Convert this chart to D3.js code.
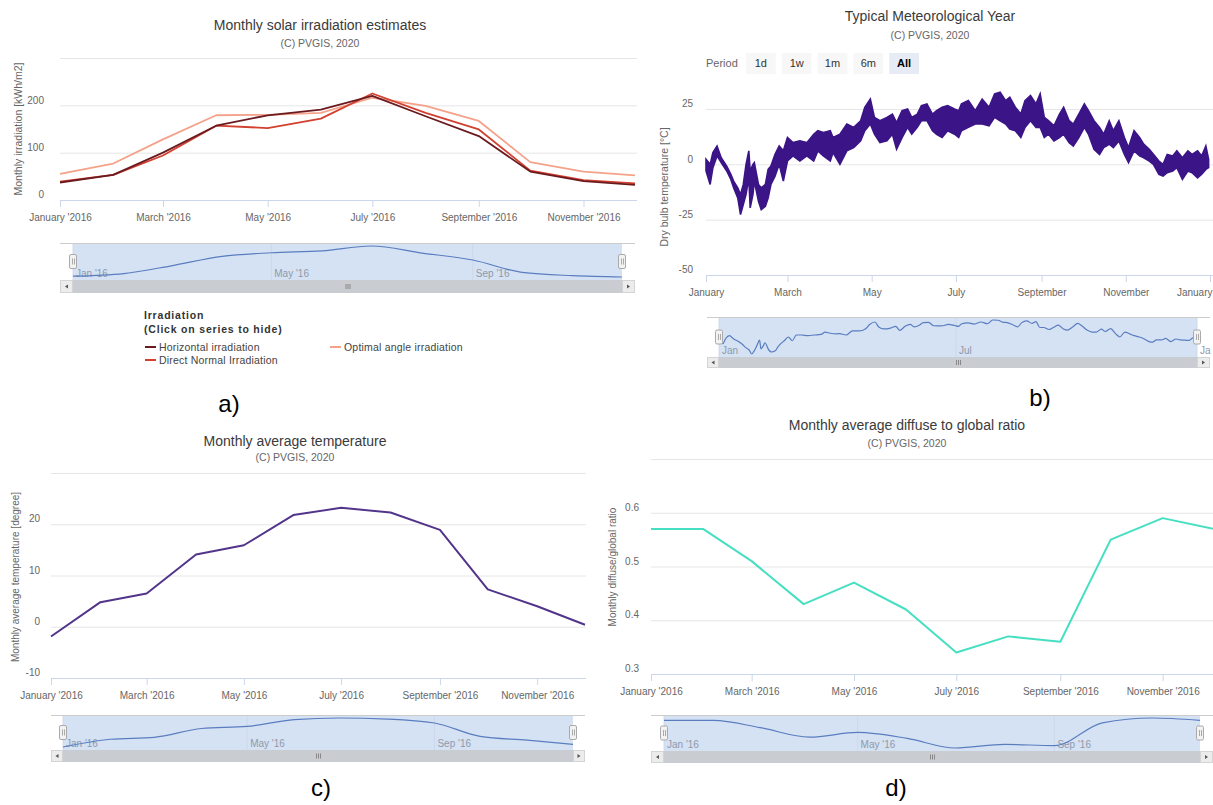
<!DOCTYPE html>
<html>
<head>
<meta charset="utf-8">
<script src="https://cdn.jsdelivr.net/npm/d3@7"></script>
<style>
  body { margin: 0; background: #fff; }
  svg { display: block; }
  text { font-family: "Liberation Sans", Arial, Helvetica, sans-serif; }
</style>
</head>
<body>
<svg id="fig" width="1213" height="805"></svg>
<script>
// ---------- data ----------
const monthStarts = ["2016-01-01","2016-02-01","2016-03-01","2016-04-01","2016-05-01","2016-06-01",
                     "2016-07-01","2016-08-01","2016-09-01","2016-10-01","2016-11-01","2016-12-01"];
const monthTicks = ["2016-01-01","2016-03-01","2016-05-01","2016-07-01","2016-09-01","2016-11-01"];
const navTicks = ["2016-01-01","2016-05-01","2016-09-01"];
const navTickLabels = ["Jan '16","May '16","Sep '16"];

// a) monthly irradiation, kWh/m2
const horizontalIrr   = [37, 53, 100, 157, 179, 191, 220, 177, 135, 60, 40, 32];
const directNormalIrr = [39, 53, 94, 157, 152, 172, 225, 184, 149, 62, 42, 35];
const optimalAngleIrr = [55, 77, 128, 179, 180, 184, 216, 199, 167, 80, 60, 52];
const irrGrid = [0, 100, 200, 300];
const irrLabels = [0, 100, 200];

// b) typical meteorological year, dry bulb temperature envelope (day of year, max, min)
const tmyDay  = [0,3,5,8,11,15,18,20,23,25,27,29,31,32,34,35,38,40,43,45,47,50,53,56,59,63,68,73,78,81,85,90,92,97,
                 102,107,112,115,119,122,126,131,135,138,142,146,149,153,156,160,164,167,171,175,180,183,185,190,195,
                 200,205,209,213,217,220,224,228,231,235,239,242,245,248,252,256,259,263,266,270,274,277,281,285,288,
                 292,295,299,303,306,310,314,317,321,324,328,331,334,338,341,345,349,352,356,359,362,364];
const tmyHigh = [2.3,0.0,5.3,8.3,3.0,-0.8,-4.5,-7.6,-10.6,-13.6,-9.1,0.0,6.1,-3.0,0.0,0.8,-9.1,-10.6,-9.1,-2.3,-0.8,4.5,8.3,6.1,12.1,9.8,10.6,9.8,
                 13.6,15.2,14.4,15.2,12.1,13.6,18.2,16.7,19.7,25.8,29.5,21.2,19.7,21.2,22.7,18.9,24.2,25.0,21.2,22.7,26.5,27.3,
                 22.7,24.2,25.8,26.5,25.0,24.2,27.3,28.8,24.2,29.5,25.8,31.8,32.6,28.8,30.3,25.8,22.7,28.8,31.1,27.3,31.8,
                 21.2,19.7,17.4,22.7,25.8,19.7,18.2,22.7,27.3,24.2,19.7,16.7,13.6,19.7,15.2,19.7,12.1,7.6,15.2,12.1,9.1,6.8,
                 4.5,1.5,0.0,4.5,3.8,6.1,3.0,6.1,4.5,6.1,3.8,8.3,2.3];
const tmyLow  = [-3.0,-9.1,-1.5,3.8,0.8,-3.0,-6.8,-10.6,-15.2,-22.7,-18.2,-13.6,-6.1,-19.7,-13.6,-7.6,-16.7,-20.5,-18.9,-15.2,-9.1,-5.3,0.0,-7.6,1.5,3.8,1.5,3.8,
                 1.5,6.1,3.8,1.5,5.3,0.0,6.1,7.6,10.6,15.2,18.2,13.6,9.8,10.6,13.6,6.8,12.1,16.7,13.6,16.7,19.7,19.7,
                 15.2,13.6,12.1,15.2,13.6,12.1,15.2,16.7,18.2,18.2,17.4,21.2,19.7,18.2,15.9,15.2,12.1,16.7,19.7,16.7,16.7,
                 12.1,13.6,10.6,12.1,13.6,9.8,8.3,12.1,16.7,13.6,6.8,4.5,7.6,9.1,7.6,10.6,4.5,0.8,6.1,3.8,3.0,1.5,
                 0.0,-4.5,-5.3,-3.8,-3.0,-1.5,-6.8,-3.0,-3.8,-6.1,-4.5,-2.3,-1.5];
const tmyGrid = [-25, 0, 25];
const tmyLabels = [-50, -25, 0, 25];
const tmyTicks = ["2015-01-01","2015-03-01","2015-05-01","2015-07-01","2015-09-01","2015-11-01","2016-01-01"];
const tmyNavTicks = ["2015-01-01","2015-07-01","2016-01-01"];
const tmyNavLabels = ["Jan","Jul","Ja"];
const periodButtons = ["1d","1w","1m","6m","All"];

// c) monthly average temperature, degree
const monthlyTemp = [-1.9, 4.8, 6.5, 14.1, 15.9, 21.8, 23.2, 22.3, 18.9, 7.3, 4.0, 0.4];
const tempGrid = [0, 10, 20, 30];
const tempLabels = [-10, 0, 10, 20];

// d) monthly diffuse to global ratio
const diffuseRatio = [0.57, 0.57, 0.51, 0.43, 0.47, 0.42, 0.34, 0.37, 0.36, 0.55, 0.59, 0.57];
const ratioGrid = [0.4, 0.5, 0.6, 0.7];
const ratioLabels = [0.3, 0.4, 0.5, 0.6];

// ---------- styles ----------
const GRID = "#e6e6e6", AXIS = "#ccd6eb", LABEL = "#666666";
const MASK = "#d5e2f4", NAVLINE = "#5a7dbf";
const svg = d3.select("#fig");
const parse = d3.utcParse("%Y-%m-%d");
const monthDates = monthStarts.map(parse);

function titles(cx, ty, sy, title) {
  svg.append("text").attr("x", cx).attr("y", ty).attr("text-anchor", "middle")
    .attr("font-size", 14).attr("fill", "#3a3a3a").text(title);
  svg.append("text").attr("x", cx).attr("y", sy).attr("text-anchor", "middle")
    .attr("font-size", 10.5).attr("fill", "#666").text("(C) PVGIS, 2020");
}

// gridlines, y labels, y title and x axis of one chart
function frame(p) {
  const g = svg.append("g");
  const [xl] = p.x.range();
  const grid = g.append("g").attr("transform", `translate(${xl},0)`)
    .call(d3.axisRight(p.y).tickValues(p.grid).tickSize(p.right - xl).tickFormat(""));
  grid.select(".domain").remove();
  grid.selectAll("line").attr("stroke", GRID);
  const yl = g.append("g").attr("transform", `translate(${p.labelRight},-5.5)`)
    .call(d3.axisLeft(p.y).tickValues(p.labels).tickSize(0).tickPadding(0).tickFormat(p.yFmt));
  yl.select(".domain").remove();
  yl.selectAll("text").attr("font-size", 10).attr("fill", LABEL).attr("font-family", null);
  g.append("text").attr("transform", `translate(${p.yTitleX},${p.yTitleY}) rotate(-90)`)
    .attr("text-anchor", "middle").attr("dy", "0.35em").attr("font-size", p.yTitleSize || 10.5)
    .attr("fill", LABEL).text(p.yTitle);
  const yb = p.y(p.y.domain()[0]);
  g.append("line").attr("x1", xl).attr("x2", p.right).attr("y1", yb + 0.5).attr("y2", yb + 0.5).attr("stroke", AXIS);
  const xa = g.append("g").attr("transform", `translate(0,${yb})`)
    .call(d3.axisBottom(p.x).tickValues(p.xTicks).tickFormat(p.xFmt).tickSize(7).tickSizeOuter(0).tickPadding(7));
  xa.select(".domain").remove();
  xa.selectAll("line").attr("stroke", AXIS);
  xa.selectAll("text").attr("font-size", 10).attr("fill", LABEL).attr("font-family", null);
  return { g, xa };
}

// navigator strip with scrollbar under a chart
function navigator(o) {
  const g = svg.append("g");
  const nx = d3.scaleUtc().domain(o.domain).range([o.maskL, o.maskR]);
  const ny = d3.scaleLinear().domain(d3.extent(o.values)).range([o.bottom - 3, o.top + 3]);
  g.append("rect").attr("x", o.maskL).attr("y", o.top).attr("width", o.maskR - o.maskL)
    .attr("height", o.bottom - o.top).attr("fill", MASK);
  o.ticks.forEach((d, i) => {
    const xx = nx(d);
    g.append("line").attr("x1", xx).attr("x2", xx).attr("y1", o.top).attr("y2", o.bottom)
      .attr("stroke", "#c9d6ea").attr("stroke-width", 0.8);
    g.append("text").attr("x", xx + 3).attr("y", o.bottom - 3.5).attr("font-size", 10)
      .attr("fill", "#8e99aa").text(o.tickLabels[i]);
  });
  g.append("path").datum(o.values.map((v, i) => [o.dates[i], v]))
    .attr("d", d3.line().x(d => nx(d[0])).y(d => ny(d[1])).curve(d3.curveMonotoneX))
    .attr("fill", "none").attr("stroke", NAVLINE).attr("stroke-width", 1.2);
  g.append("line").attr("x1", o.left).attr("x2", o.right).attr("y1", o.top + 0.5).attr("y2", o.top + 0.5)
    .attr("stroke", "#cccccc");
  // scrollbar
  const sh = o.sbBottom - o.bottom;
  g.append("rect").attr("x", o.left).attr("y", o.bottom).attr("width", o.right - o.left).attr("height", sh)
    .attr("fill", "#f2f2f2");
  g.append("rect").attr("x", o.maskL).attr("y", o.bottom).attr("width", o.maskR - o.maskL).attr("height", sh)
    .attr("fill", "#c9ccd1");
  [[o.left, o.maskL, -1], [o.maskR, o.right, 1]].forEach(([a, b, dir]) => {
    g.append("rect").attr("x", a + 0.5).attr("y", o.bottom + 0.5).attr("width", b - a - 1).attr("height", sh - 1)
      .attr("fill", "#ececec").attr("stroke", "#d4d4d4");
    const cx = (a + b) / 2, cy = o.bottom + sh / 2;
    g.append("path").attr("d", `M${cx + dir * 1.5},${cy}L${cx - dir * 1.5},${cy - 2}L${cx - dir * 1.5},${cy + 2}Z`)
      .attr("fill", "#555");
  });
  const rc = (o.maskL + o.maskR) / 2;
  [-2, 0, 2].forEach(dx => g.append("line").attr("x1", rc + dx + 0.5).attr("x2", rc + dx + 0.5)
    .attr("y1", o.bottom + sh / 2 - 2.5).attr("y2", o.bottom + sh / 2 + 2.5).attr("stroke", "#888"));
  // handles
  const hm = (o.top + o.bottom) / 2;
  [o.maskL, o.maskR].forEach(hx => {
    g.append("rect").attr("x", hx - 3.5).attr("y", hm - 7).attr("width", 7).attr("height", 14).attr("rx", 1.5)
      .attr("fill", "#f2f2f2").attr("stroke", "#aaaaaa");
    [-1, 1].forEach(dx => g.append("line").attr("x1", hx + dx + 0.5).attr("x2", hx + dx + 0.5)
      .attr("y1", hm - 3).attr("y2", hm + 3).attr("stroke", "#aaaaaa"));
  });
}

function panelLabel(x, y, t) {
  svg.append("text").attr("x", x).attr("y", y).attr("text-anchor", "middle")
    .attr("font-family", '"Liberation Serif", "Times New Roman", serif').attr("font-size", 24)
    .attr("fill", "#000").text(t);
}

const fmtMonthYear = d3.utcFormat("%B '%Y");
const monthTickDates = monthTicks.map(parse);
const navTickDates = navTicks.map(parse);

// ---------- a) monthly solar irradiation ----------
{
  titles(320, 30, 47, "Monthly solar irradiation estimates");
  const x = d3.scaleUtc().domain([monthDates[0], monthDates[11]]).range([60, 635]);
  const y = d3.scaleLinear().domain([0, 300]).range([200, 58]);
  frame({ x, y, right: 637, grid: irrGrid, labels: irrLabels, labelRight: 44, yFmt: d => String(d),
          yTitle: "Monthly irradiation [kWh/m2]", yTitleX: 18, yTitleY: 129,
          xTicks: monthTickDates, xFmt: fmtMonthYear });
  const series = [
    { name: "Horizontal irradiation", values: horizontalIrr, color: "#6b1a1f" },
    { name: "Direct Normal Irradiation", values: directNormalIrr, color: "#d2402f" },
    { name: "Optimal angle irradiation", values: optimalAngleIrr, color: "#f4a28a" }
  ];
  const line = d3.line().x((d, i) => x(monthDates[i])).y(d => y(d));
  series.slice().reverse().forEach(s => svg.append("path").datum(s.values).attr("d", line)
    .attr("fill", "none").attr("stroke", s.color).attr("stroke-width", 1.8).attr("stroke-linejoin", "round"));

  navigator({ left: 60, right: 635, maskL: 73, maskR: 622, top: 243, bottom: 280, sbBottom: 293,
              domain: [monthDates[0], monthDates[11]], dates: monthDates, values: horizontalIrr,
              ticks: navTickDates, tickLabels: navTickLabels });

  // legend
  const lg = svg.append("g");
  lg.append("text").attr("x", 144).attr("y", 319).attr("font-size", 10.5).attr("font-weight", "bold")
    .attr("letter-spacing", 0.8).attr("fill", "#333").text("Irradiation");
  lg.append("text").attr("x", 144).attr("y", 333).attr("font-size", 10.5).attr("font-weight", "bold")
    .attr("letter-spacing", 0.8).attr("fill", "#333").text("(Click on series to hide)");
  const items = [[series[0], 145, 347], [series[1], 145, 360], [series[2], 330, 347]];
  items.forEach(([s, lx, ly]) => {
    lg.append("line").attr("x1", lx).attr("x2", lx + 11).attr("y1", ly).attr("y2", ly)
      .attr("stroke", s.color).attr("stroke-width", 2);
    lg.append("text").attr("x", lx + 14).attr("y", ly + 3.5).attr("font-size", 10.5)
      .attr("letter-spacing", 0.2).attr("fill", "#444").text(s.name);
  });
  panelLabel(229, 412, "a)");
}

// ---------- b) typical meteorological year ----------
{
  titles(930, 21, 39, "Typical Meteorological Year");
  // range selector
  svg.append("text").attr("x", 706).attr("y", 67).attr("font-size", 11).attr("fill", "#666").text("Period");
  const bx = d3.scaleBand().domain(periodButtons).range([746, 919]).paddingInner(0.17);
  periodButtons.forEach(b => {
    const sel = b === "All";
    svg.append("rect").attr("x", bx(b)).attr("y", 53).attr("width", bx.bandwidth()).attr("height", 21)
      .attr("fill", sel ? "#e6ebf5" : "#f7f7f7");
    svg.append("text").attr("x", bx(b) + bx.bandwidth() / 2).attr("y", 67).attr("text-anchor", "middle")
      .attr("font-size", 11).attr("font-weight", sel ? "bold" : "normal")
      .attr("fill", sel ? "#000" : "#333").text(b);
  });

  const start = parse("2015-01-01"), end = parse("2016-01-01");
  const tmyDates = tmyDay.map(d => d3.utcDay.offset(start, d));
  const x = d3.scaleUtc().domain([start, end]).range([706, 1210]);
  const y = d3.scaleLinear().domain([-50, 25]).range([275, 109]);
  const f = frame({ x, y, right: 1213, grid: tmyGrid, labels: tmyLabels, labelRight: 693, yFmt: d => String(d),
          yTitle: "Dry bulb temperature [°C]", yTitleX: 664, yTitleY: 187,
          xTicks: tmyTicks.map(parse), xFmt: d3.utcFormat("%B") });
  f.xa.selectAll(".tick:last-of-type text").attr("text-anchor", "end").attr("x", 2);

  const band = d3.area().x((d, i) => x(tmyDates[i])).y0((d, i) => y(tmyLow[i])).y1((d, i) => y(tmyHigh[i]));
  svg.append("path").datum(tmyHigh).attr("d", band).attr("fill", "#3b1487")
    .attr("stroke", "#3b1487").attr("stroke-width", 1.6).attr("stroke-linejoin", "miter");

  const tmyMean = tmyHigh.map((h, i) => (h + tmyLow[i]) / 2);
  navigator({ left: 707, right: 1210, maskL: 719, maskR: 1197, top: 317, bottom: 357, sbBottom: 368,
              domain: [start, end], dates: tmyDates, values: tmyMean,
              ticks: tmyNavTicks.map(parse), tickLabels: tmyNavLabels });
  panelLabel(1040, 406, "b)");
}

// ---------- c) monthly average temperature ----------
{
  titles(295, 446, 461, "Monthly average temperature");
  const x = d3.scaleUtc().domain([monthDates[0], monthDates[11]]).range([51, 585]);
  const y = d3.scaleLinear().domain([-10, 30]).range([678, 473]);
  frame({ x, y, right: 586, grid: tempGrid, labels: tempLabels, labelRight: 40, yFmt: d => String(d),
          yTitle: "Monthly average temperature [degree]", yTitleX: 15, yTitleY: 577, yTitleSize: 10,
          xTicks: monthTickDates, xFmt: fmtMonthYear });
  svg.append("path").datum(monthlyTemp)
    .attr("d", d3.line().x((d, i) => x(monthDates[i])).y(d => y(d)))
    .attr("fill", "none").attr("stroke", "#52358a").attr("stroke-width", 2).attr("stroke-linejoin", "round");
  navigator({ left: 51, right: 585, maskL: 63, maskR: 573, top: 715, bottom: 750, sbBottom: 762,
              domain: [monthDates[0], monthDates[11]], dates: monthDates, values: monthlyTemp,
              ticks: navTickDates, tickLabels: navTickLabels });
  panelLabel(321, 796, "c)");
}

// ---------- d) monthly diffuse to global ratio ----------
{
  titles(907, 430, 447, "Monthly average diffuse to global ratio");
  const x = d3.scaleUtc().domain([monthDates[0], monthDates[11]]).range([651, 1213]);
  const y = d3.scaleLinear().domain([0.3, 0.7]).range([674, 459]);
  frame({ x, y, right: 1213, grid: ratioGrid, labels: ratioLabels, labelRight: 639, yFmt: d3.format(".1f"),
          yTitle: "Monthly diffuse/global ratio", yTitleX: 612, yTitleY: 567, yTitleSize: 10,
          xTicks: monthTickDates, xFmt: fmtMonthYear });
  svg.append("path").datum(diffuseRatio)
    .attr("d", d3.line().x((d, i) => x(monthDates[i])).y(d => y(d)))
    .attr("fill", "none").attr("stroke", "#47dfc1").attr("stroke-width", 2).attr("stroke-linejoin", "round");
  navigator({ left: 651, right: 1213, maskL: 664, maskR: 1200, top: 715, bottom: 751, sbBottom: 763,
              domain: [monthDates[0], monthDates[11]], dates: monthDates, values: diffuseRatio,
              ticks: navTickDates, tickLabels: navTickLabels });
  panelLabel(896, 796, "d)");
}
</script>
</body>
</html>
